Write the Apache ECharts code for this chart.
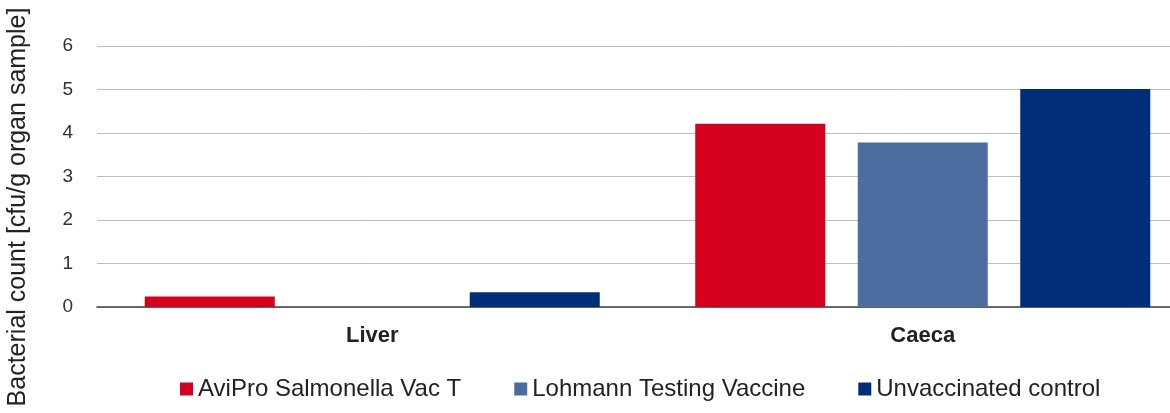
<!DOCTYPE html>
<html>
<head>
<meta charset="utf-8">
<script src="https://cdn.jsdelivr.net/npm/echarts@6/dist/echarts.min.js"></script>
<style>
  html, body { margin: 0; padding: 0; background: #fff; }
  #chart { width: 1170px; height: 413px; }
</style>
</head>
<body>
<div id="chart"></div>
<script>
var organs = ['Liver', 'Caeca'];
var seriesNames = ['AviPro Salmonella Vac T', 'Lohmann Testing Vaccine', 'Unvaccinated control'];
var aviPro = [0.24, 4.21];
var lohmann = [0, 3.78];
var unvaccinated = [0.34, 5.01];
var yTicks = [0, 1, 2, 3, 4, 5, 6];
var colors = ['#d4001e', '#4d6ca0', '#002e78'];

var chart = echarts.init(document.getElementById('chart'), null, {renderer: 'canvas'});

function bar(name, values, color) {
    return {
        name: name,
        type: 'bar',
        data: values,
        barWidth: 130,
        barGap: '25%',
        itemStyle: {color: color},
        animation: false
    };
}

chart.setOption({
    animation: false,
    color: colors,
    // plot runs past the right edge of the picture, as in the original
    grid: {left: 97, top: 46, height: 261, width: 1101, outerBoundsMode: 'none', containLabel: false},
    legend: {
        data: seriesNames,
        left: 175,
        top: 372,
        icon: 'rect',
        itemWidth: 13,
        itemHeight: 13,
        itemGap: 53,
        textStyle: {fontFamily: 'Liberation Sans', fontSize: 24, color: '#222'}
    },
    xAxis: {
        type: 'category',
        data: organs,
        axisTick: {show: false},
        axisLine: {lineStyle: {color: '#404040', width: 1.5}},
        axisLabel: {fontFamily: 'Liberation Sans', fontSize: 22, fontWeight: 'bold', color: '#222', margin: 18}
    },
    yAxis: {
        type: 'value',
        min: yTicks[0],
        max: yTicks[yTicks.length - 1],
        interval: 1,
        axisLine: {show: false},
        axisTick: {show: false},
        splitLine: {lineStyle: {color: '#bdbdbd', width: 1}},
        axisLabel: {fontFamily: 'Liberation Sans', fontSize: 19, color: '#333', margin: 24}
    },
    graphic: [{
        type: 'text',
        x: 18,
        y: 207,
        rotation: Math.PI / 2,
        style: {
            text: 'Bacterial count [cfu/g organ sample]',
            fontFamily: 'Liberation Sans',
            fontSize: 25,
            fill: '#222',
            align: 'center',
            verticalAlign: 'middle'
        }
    }],
    series: [
        bar(seriesNames[0], aviPro, colors[0]),
        bar(seriesNames[1], lohmann, colors[1]),
        bar(seriesNames[2], unvaccinated, colors[2])
    ]
});
</script>
</body>
</html>
